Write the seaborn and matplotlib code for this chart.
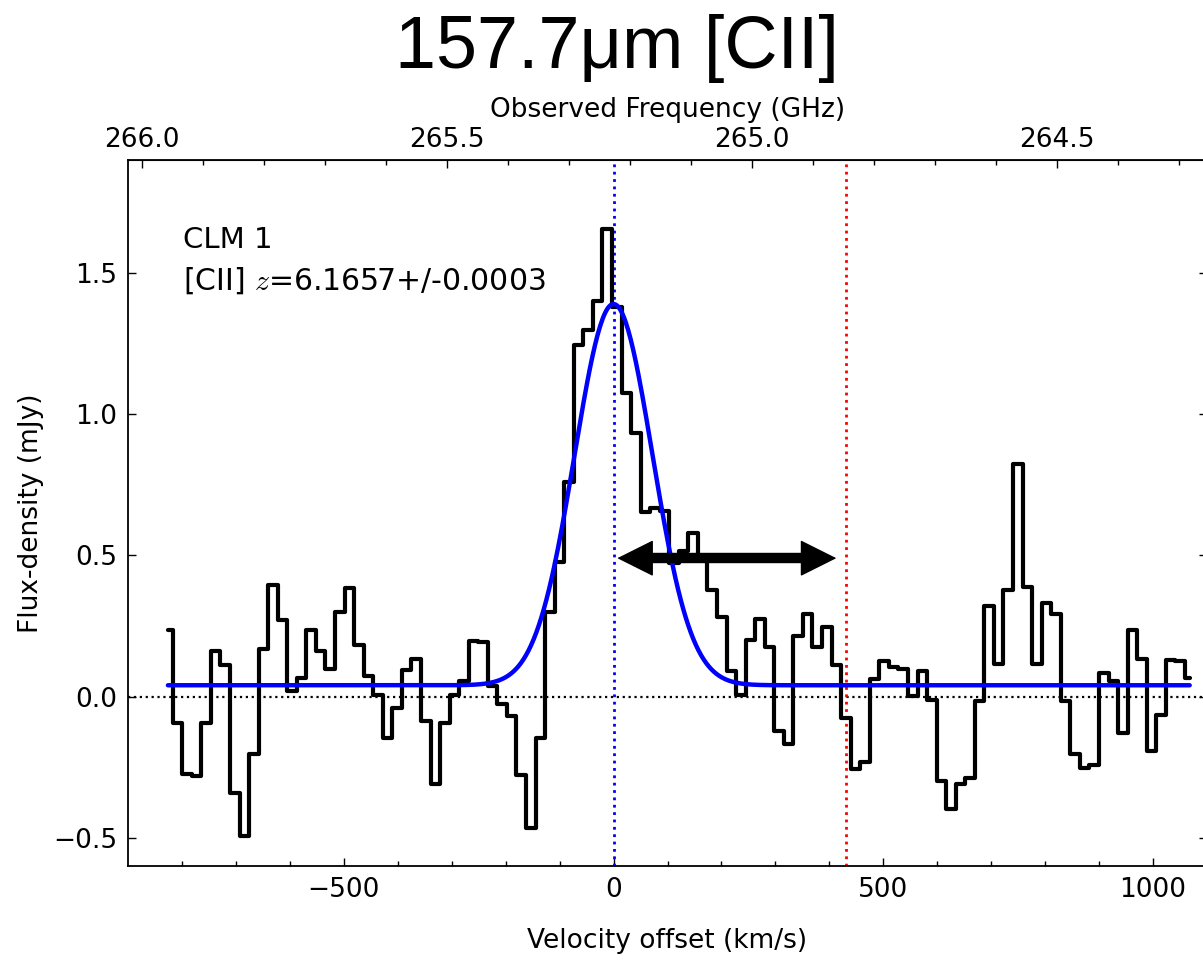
import numpy as np
import matplotlib
matplotlib.use("Agg")
import matplotlib.pyplot as plt
import seaborn as sns

# Spectrum: channel flux densities (mJy), regular velocity channels
v_start = -826.0       # km/s, centre of first channel
chan_width = 17.7      # km/s
flux = [
    0.236, -0.092, -0.275, -0.281, -0.092, 0.160, 0.113, -0.340, -0.493, -0.205,
    0.168, 0.395, 0.272, 0.021, 0.066, 0.234, 0.163, 0.098, 0.301, 0.386,
    0.184, 0.074, 0.004, -0.146, -0.040, 0.095, 0.133, -0.087, -0.311, -0.093,
    0.004, 0.054, 0.198, 0.192, 0.036, -0.028, -0.070, -0.279, -0.464, -0.146,
    0.301, 0.478, 0.760, 1.245, 1.298, 1.401, 1.654, 1.378, 1.074, 0.933,
    0.655, 0.668, 0.657, 0.472, 0.516, 0.580, 0.490, 0.378, 0.283, 0.089,
    0.004, 0.201, 0.275, 0.175, -0.122, -0.169, 0.213, 0.293, 0.175, 0.246,
    0.113, -0.075, -0.256, -0.233, 0.062, 0.125, 0.105, 0.099, 0.001, 0.089,
    -0.011, -0.299, -0.399, -0.311, -0.287, -0.017, 0.322, 0.117, 0.378, 0.825,
    0.389, 0.116, 0.333, 0.293, -0.017, -0.205, -0.252, -0.244, 0.083, 0.054,
    -0.128, 0.234, 0.133, -0.193, -0.067, 0.128, 0.125, 0.066,
]
velocity = v_start + chan_width * np.arange(len(flux))

# Gaussian line fit parameters
fit_peak = 1.35        # mJy above continuum
fit_center = 0.0       # km/s
fit_sigma = 72.0       # km/s
fit_cont = 0.04        # mJy

# Reference markers
red_line_v = 430.0     # km/s
arrow_y = 0.49
arrow_v = [7.0, 413.0]

# Frequency axis
nu_rest = 1900.5369    # GHz, [CII] 157.7 um
z_cii = 6.1657
nu_obs = nu_rest / (1.0 + z_cii)
c_kms = 299792.458
freq_ticks = [266.0, 265.5, 265.0, 264.5]

sns.set_style("ticks")
plt.rcParams["font.family"] = ["DejaVu Sans"]
plt.rcParams["mathtext.fontset"] = "cm"
plt.rcParams["text.color"] = "black"
plt.rcParams["axes.labelcolor"] = "black"
plt.rcParams["xtick.color"] = "black"
plt.rcParams["ytick.color"] = "black"

TICK_FS = 19
LABEL_FS = 19

fig = plt.figure(figsize=(12.03, 9.60), dpi=100)
ax = fig.add_axes([128 / 1203, 1 - 866 / 960, (1207 - 128) / 1203, (866 - 160) / 960])

# zero level
ax.axhline(0.0, color="black", lw=1.6, ls=":", zorder=1)

# line centre and red marker
ax.axvline(0.0, color="blue", lw=2.0, ls=":", zorder=1)
ax.axvline(red_line_v, color="red", lw=2.0, ls=":", zorder=1)

# observed spectrum
sns.lineplot(x=velocity, y=flux, ax=ax, color="black", lw=3.0,
             drawstyle="steps-mid", estimator=None, sort=False, zorder=3)

# gaussian model
v_model = np.linspace(velocity[0], velocity[-1], 800)
f_model = fit_cont + fit_peak * np.exp(-0.5 * ((v_model - fit_center) / fit_sigma) ** 2)
sns.lineplot(x=v_model, y=f_model, ax=ax, color="blue", lw=3.2,
             estimator=None, sort=False, zorder=4)

# double-headed arrow: filled heads plus a thick shaft
ax.annotate("", xy=(arrow_v[0], arrow_y), xytext=(arrow_v[1], arrow_y),
            arrowprops=dict(arrowstyle="<|-|>,head_length=1.2,head_width=0.6",
                            mutation_scale=20, lw=1, color="black",
                            shrinkA=0, shrinkB=0),
            zorder=5)
ax.plot([arrow_v[0] + 50, arrow_v[1] - 50], [arrow_y, arrow_y], color="black",
        lw=7.5, solid_capstyle="butt", zorder=5)

ax.set_xlim(-900, 1100)
ax.set_ylim(-0.6, 1.9)
ax.set_xticks([-500, 0, 500, 1000])
ax.set_xticks(np.arange(-800, 1100, 100), minor=True)
ax.set_yticks([-0.5, 0.0, 0.5, 1.0, 1.5])
ax.tick_params(axis="both", which="both", direction="in", top=False, right=True,
               labelsize=TICK_FS, colors="black")
ax.tick_params(which="major", length=6, width=1.0, pad=8)
ax.tick_params(which="minor", length=3.5, width=1.0)
for s in ax.spines.values():
    s.set_color("black")
    s.set_linewidth(1.3)

ax.set_xlabel("Velocity offset (km/s)", fontsize=LABEL_FS, labelpad=18)
ax.set_ylabel("Flux-density (mJy)", fontsize=LABEL_FS, labelpad=6)


def v_to_f(v):
    return nu_obs * (1.0 - np.asarray(v) / c_kms)


def f_to_v(f):
    return c_kms * (1.0 - np.asarray(f) / nu_obs)


secax = ax.secondary_xaxis("top", functions=(v_to_f, f_to_v))
secax.set_xticks(freq_ticks)
secax.set_xticks(np.arange(264.3, 266.05, 0.1), minor=True)
secax.xaxis.set_major_formatter(matplotlib.ticker.FormatStrFormatter("%.1f"))
secax.tick_params(axis="x", which="both", direction="in", labelsize=TICK_FS,
                  colors="black")
secax.tick_params(which="major", length=6, width=1.0, pad=5)
secax.tick_params(which="minor", length=3.5, width=1.0)
secax.set_xlabel("Observed Frequency (GHz)", fontsize=LABEL_FS, labelpad=7)

ax.text(0.051, 0.887, "CLM 1", transform=ax.transAxes, fontsize=21,
        ha="left", va="center")
ax.text(0.051, 0.829, r"[CII] $z$=6.1657+/-0.0003", transform=ax.transAxes,
        fontsize=21.5, ha="left", va="center")

fig.text(617 / 1203, 1 - 68 / 960, "157.7\u03bcm [CII]", fontsize=53,
         family=["Liberation Sans", "DejaVu Sans"], ha="center", va="baseline",
         color="black")

fig.savefig("out.png", dpi=100)
